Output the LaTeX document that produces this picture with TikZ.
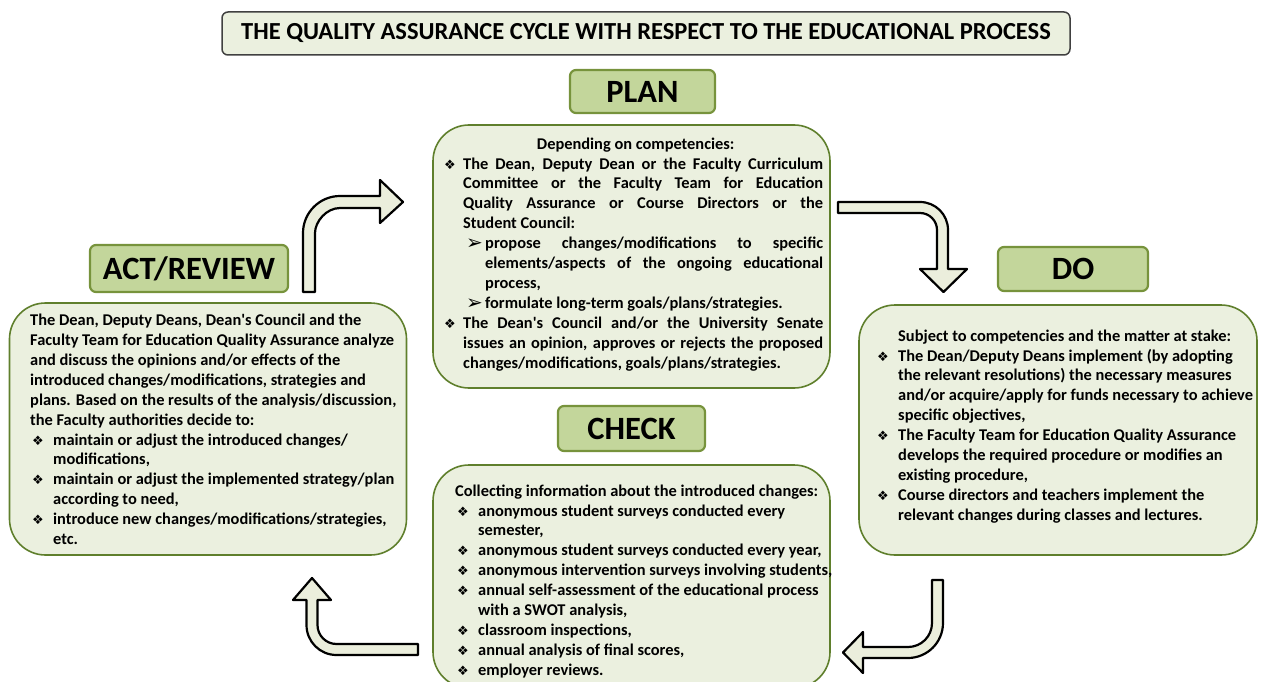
\documentclass[tikz,border=0pt]{standalone}
\usepackage{fontspec}
\setmainfont{Carlito}
\newfontfamily\symfont{DejaVu Sans}
\definecolor{boxfill}{HTML}{EBF0DF}
\definecolor{boxline}{HTML}{5F7F2C}
\definecolor{labfill}{HTML}{C3D69B}
\definecolor{labline}{HTML}{77933C}
\definecolor{arrfill}{HTML}{EBEEDC}
\definecolor{titleline}{HTML}{404040}
\newcommand{\dia}{{\symfont\fontsize{13}{13}\selectfont ❖}}
\newcommand{\arw}{\raisebox{-1pt}[0pt][0pt]{\symfont\fontsize{20}{20}\selectfont ➢}}
\newcommand{\ap}{\textquotesingle}
\tikzset{
  bigbox/.style={draw=boxline, fill=boxfill, line width=1.6pt, rounded corners=36pt, inner sep=0pt},
  labbox/.style={draw=labline, fill=labfill, line width=2.2pt, rounded corners=6pt, inner sep=0pt, font=\bfseries\fontsize{32.5}{32.5}\selectfont},
  titlebox/.style={draw=titleline, fill=boxfill, line width=1.5pt, rounded corners=6pt, inner sep=0pt, font=\bfseries\fontsize{24.5}{24.5}\selectfont},
  bodytext/.style={anchor=north west, inner sep=0pt, align=left, font=\bfseries\fontsize{16.4}{19.9}\selectfont},
  blockarrow/.style={draw=black, fill=arrfill, line width=2.2pt, line join=round}
}
\begin{document}
\begin{tikzpicture}[x=1pt, y=-1pt]
\useasboundingbox (0,0) rectangle (1264,682);

% title
\node[titlebox, minimum width=848pt, minimum height=43pt] (title) at (646,33.5)
  {THE QUALITY ASSURANCE CYCLE WITH RESPECT TO THE EDUCATIONAL PROCESS};

% big boxes
\node[bigbox, minimum width=397pt, minimum height=263pt] (planbox) at (631.5,256.5) {};
\node[bigbox, minimum width=397pt, minimum height=252pt] (actbox) at (208,429) {};
\node[bigbox, minimum width=398pt, minimum height=250pt] (dobox) at (1058,430) {};
\node[bigbox, minimum width=397pt, minimum height=223pt] (checkbox) at (631.5,576.5) {};

% labels
\node[labbox, minimum width=145pt, minimum height=43pt] (planlab) at (642.5,91.5) {PLAN};
\node[labbox, minimum width=198pt, minimum height=47pt] (actlab) at (189,268.5) {ACT/REVIEW};
\node[labbox, minimum width=150pt, minimum height=44pt] (dolab) at (1073,269) {DO};
\node[labbox, minimum width=147pt, minimum height=45pt] (checklab) at (631.5,428.5) {CHECK};

% plan text
\node[bodytext] (plantext) at (448,135) {%
\strut\makebox[375pt][c]{Depending on competencies:}\\
\makebox[15pt][l]{\hspace{-4pt}\dia}\makebox[360pt][s]{The Dean, Deputy Dean or the Faculty Curriculum}\\
\hspace*{15pt}\makebox[360pt][s]{Committee or the Faculty Team for Education}\\
\hspace*{15pt}\makebox[360pt][s]{Quality Assurance or Course Directors or the}\\
\hspace*{15pt}Student Council:\\
\hspace*{18pt}\makebox[19pt][l]{\arw}\makebox[338pt][s]{propose changes/modifications to specific}\\
\hspace*{37pt}\makebox[338pt][s]{elements/aspects of the ongoing educational}\\
\hspace*{37pt}process,\\
\hspace*{18pt}\makebox[19pt][l]{\arw}formulate long-term goals/plans/strategies.\\
\makebox[15pt][l]{\hspace{-4pt}\dia}\makebox[360pt][s]{The Dean\ap s Council and/or the University Senate}\\
\hspace*{15pt}\makebox[360pt][s]{issues an opinion, approves or rejects the proposed}\\
\hspace*{15pt}changes/modifications, goals/plans/strategies.};

% act text
\node[bodytext] (acttext) at (30,311.5) {%
\strut The Dean, Deputy Deans, Dean\ap s Council and the\\
Faculty Team for Education Quality Assurance analyze\\
and discuss the opinions and/or effects of the\\
introduced changes/modifications, strategies and\\
plans. Based on the results of the analysis/discussion,\\
the Faculty authorities decide to:\\
\makebox[23pt][l]{\hspace{2pt}\dia}maintain or adjust the introduced changes/\\
\hspace*{23pt}modifications,\\
\makebox[23pt][l]{\hspace{2pt}\dia}maintain or adjust the implemented strategy/plan\\
\hspace*{23pt}according to need,\\
\makebox[23pt][l]{\hspace{2pt}\dia}introduce new changes/modifications/strategies,\\
\hspace*{23pt}etc.};

% do text
\node[bodytext] (dotext) at (877,327) {%
\strut\hspace*{21pt}Subject to competencies and the matter at stake:\\
\makebox[21pt][l]{\dia}The Dean/Deputy Deans implement (by adopting\\
\hspace*{21pt}the relevant resolutions) the necessary measures\\
\hspace*{21pt}and/or acquire/apply for funds necessary to achieve\\
\hspace*{21pt}specific objectives,\\
\makebox[21pt][l]{\dia}The Faculty Team for Education Quality Assurance\\
\hspace*{21pt}develops the required procedure or modifies an\\
\hspace*{21pt}existing procedure,\\
\makebox[21pt][l]{\dia}Course directors and teachers implement the\\
\hspace*{21pt}relevant changes during classes and lectures.};

% check text
\node[bodytext] (checktext) at (455,482) {%
\strut Collecting information about the introduced changes:\\
\makebox[23pt][l]{\hspace{2pt}\dia}anonymous student surveys conducted every\\
\hspace*{23pt}semester,\\
\makebox[23pt][l]{\hspace{2pt}\dia}anonymous student surveys conducted every year,\\
\makebox[23pt][l]{\hspace{2pt}\dia}anonymous intervention surveys involving students,\\
\makebox[23pt][l]{\hspace{2pt}\dia}annual self-assessment of the educational process\\
\hspace*{23pt}with a SWOT analysis,\\
\makebox[23pt][l]{\hspace{2pt}\dia}classroom inspections,\\
\makebox[23pt][l]{\hspace{2pt}\dia}annual analysis of final scores,\\
\makebox[23pt][l]{\hspace{2pt}\dia}employer reviews.};

% block arrows
% act -> plan
\draw[blockarrow] (303,292) -- (303,233) .. controls (303,212.6) and (319.6,196) .. (340,196)
  -- (380,196) -- (380,180) -- (403,202) -- (380,223) -- (380,208) -- (340,208)
  .. controls (326.2,208) and (315,221.8) .. (315,233) -- (315,292) -- cycle;
% plan -> do
\draw[blockarrow] (838,202) -- (920,202) .. controls (935.5,202) and (948,214.5) .. (948,230)
  -- (948,269) -- (967,269) -- (943.5,292) -- (920,269) -- (937,269) -- (937,230)
  .. controls (937,220.6) and (929.4,213) .. (920,213) -- (838,213) -- cycle;
% do -> check
\draw[blockarrow] (932,580) -- (943,580) -- (943,623) .. controls (943,642.3) and (927.3,658) .. (908,658)
  -- (863,658) -- (863,673) -- (843,652.5) -- (863,632) -- (863,647) -- (908,647)
  .. controls (921.3,647) and (932,636.3) .. (932,623) -- cycle;
% check -> act
\draw[blockarrow] (418,644) -- (336.5,644) .. controls (326,644) and (317.5,635.5) .. (317.5,625)
  -- (317.5,600) -- (331,600) -- (312,578) -- (293,600) -- (306.5,600) -- (306.5,625)
  .. controls (306.5,641.6) and (319.9,655) .. (336.5,655) -- (418,655) -- cycle;
\end{tikzpicture}
\end{document}
